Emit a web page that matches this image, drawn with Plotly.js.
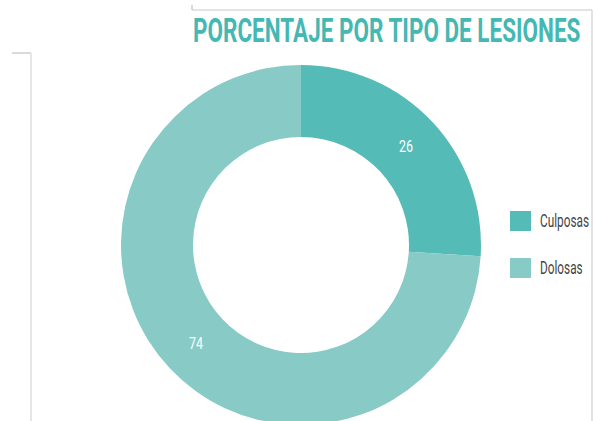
<!DOCTYPE html>
<html>
<head>
<meta charset="utf-8">
<script src="https://cdn.plot.ly/plotly-3.0.1.min.js"></script>
<style>
html,body{margin:0;padding:0;background:#fff;overflow:hidden;}
#chart{width:594px;height:430px;}
</style>
</head>
<body>
<div id="chart"></div>
<script>
var categories = ["Culposas", "Dolosas"];
var values = [26, 74];
var colors = ["#55bbb6", "#87cac6"];
var titleText = "PORCENTAJE POR TIPO DE LESIONES";

var W = 594, H = 430;
var FONT = "Roboto, 'Liberation Sans', sans-serif";

var trace = {
  type: "pie",
  labels: categories,
  values: values,
  hole: 0.6,
  sort: false,
  direction: "clockwise",
  rotation: 0,
  marker: {colors: colors, line: {width: 0}},
  texttemplate: "%{value}",
  textposition: "inside",
  insidetextorientation: "horizontal",
  insidetextfont: {color: "#ffffff", size: 16, family: FONT},
  hoverinfo: "label+value",
  showlegend: false,
  domain: {x: [121/W, 481/W], y: [(H-425)/H, (H-65)/H]}
};

var shapes = [
  {type:"line", xref:"paper", yref:"paper", x0:12/W, x1:31/W, y0:1-53/H, y1:1-53/H, line:{color:"#b5b5b5", width:1}},
  {type:"line", xref:"paper", yref:"paper", x0:31/W, x1:31/W, y0:1-53/H, y1:0, line:{color:"#dedede", width:1.5}},
  {type:"line", xref:"paper", yref:"paper", x0:192/W, x1:592/W, y0:1-10/H, y1:1-10/H, line:{color:"#c8c8c8", width:1}},
  {type:"line", xref:"paper", yref:"paper", x0:192/W, x1:192/W, y0:1-5/H, y1:1-10/H, line:{color:"#b5b5b5", width:1}},
  {type:"line", xref:"paper", yref:"paper", x0:592/W, x1:592/W, y0:1-10/H, y1:0, line:{color:"#d8d8d8", width:1.5}}
];
var annotations = [];
var legendTop = [211, 258];
categories.forEach(function(c, i){
  var y0 = legendTop[i];
  shapes.push({type:"rect", xref:"paper", yref:"paper", x0:510/W, x1:531/W, y0:1-(y0+20)/H, y1:1-y0/H, fillcolor:colors[i], line:{width:0}});
  annotations.push({xref:"paper", yref:"paper", x:538/W, y:1-(y0+10)/H, xanchor:"left", yanchor:"middle", showarrow:false, text:c, font:{family:FONT, size:11.8, color:"#444444"}});
});

var layout = {
  width: W, height: H,
  margin: {l:0, r:0, t:0, b:0},
  paper_bgcolor: "#ffffff",
  title: {text: titleText, x: 193/W, xanchor: "left", xref: "paper", y: 1-30/H, yanchor: "middle", yref: "paper",
          font: {family: FONT, size: 22.5, weight: 700, color: "#45b8b3"}},
  showlegend: false,
  shapes: shapes,
  annotations: annotations
};

// stretch text vertically (condensed look) about its own centre
function stretchY(el, k) {
  var bb = el.getBBox();
  var cy = bb.y + bb.height / 2;
  var prev = el.getAttribute("transform") || "";
  el.setAttribute("transform", prev + " translate(0," + cy + ") scale(1," + k + ") translate(0," + (-cy) + ")");
}

Plotly.newPlot("chart", [trace], layout, {displayModeBar: false, staticPlot: true}).then(function(gd){
  var t = gd.querySelector(".gtitle");
  if (t) stretchY(t, 34 / 22.5);
  gd.querySelectorAll(".annotation-text").forEach(function(el){ stretchY(el, 18 / 11.8); });
  gd.querySelectorAll(".slicetext").forEach(function(el){
    el.setAttribute("textLength", 14);
    el.setAttribute("lengthAdjust", "spacingAndGlyphs");
  });
});
</script>
</body>
</html>
